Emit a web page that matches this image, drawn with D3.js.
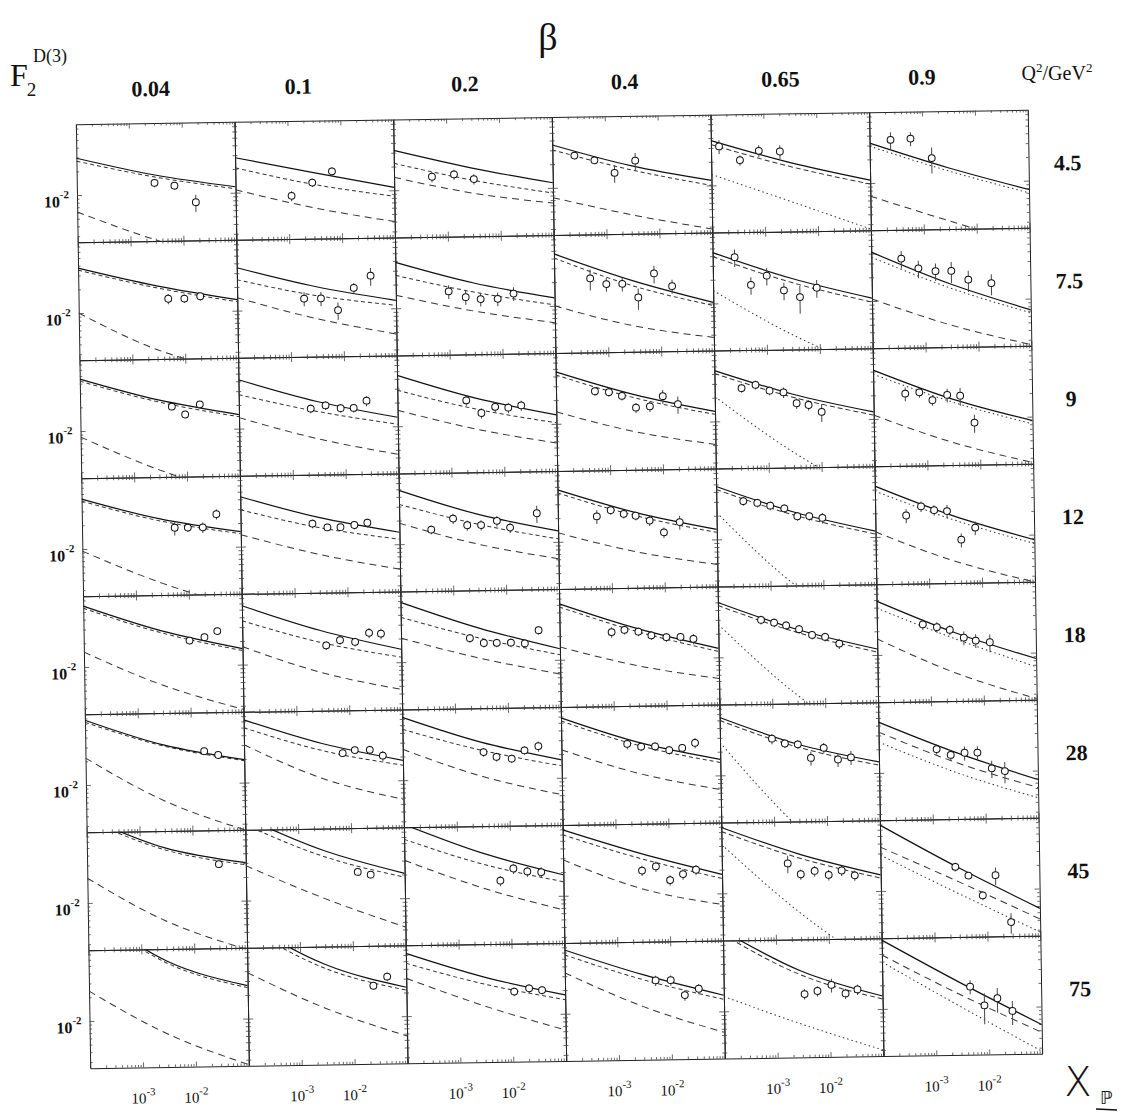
<!DOCTYPE html>
<html>
<head>
<meta charset="utf-8">
<script src="https://cdn.jsdelivr.net/npm/d3@7"></script>
<style>
  body{margin:0;background:#fff;}
  text{font-family:"Liberation Serif","Times New Roman",serif;fill:#111;}
</style>
</head>
<body>
<script>
(function(){

  //column and row labels
  var betaValues = ["0.04", "0.1", "0.2", "0.4", "0.65", "0.9"];
  var q2Values = ["4.5", "7.5", "9", "12", "18", "28", "45", "75"];
  var xTickValues = [1e-3, 1e-2];
  var yTickValues = [1e-2];

  var curveX = [1e-4, 3e-3, 1e-1];

  //model curves [row][col] = F values at curveX
  var solidCurve = [
    [[.0294,.0174,.0119],[.0278,.0174,.0109],[.0321,.0185,.0116],[.0351,.0185,.0116],[.0372,.0190,.0109],[.0321,.0151,.0077]],
    [[.0372,.0214,.0138],[.0351,.0196,.0126],[.0383,.0202,.0126],[.0457,.0202,.0103],[.0443,.0202,.0109],[.0418,.0160,.0072]],
    [[.0457,.0240,.0151],[.0418,.0214,.0130],[.0443,.0220,.0130],[.0457,.0227,.0134],[.0443,.0214,.0123],[.0418,.0174,.0089]],
    [[.0431,.0233,.0155],[.0431,.0227,.0142],[.0484,.0233,.0138],[.0457,.0227,.0134],[.0470,.0214,.0119],[.0443,.0179,.0086]],
    [[.0594,.0278,.0160],[.0560,.0262,.0146],[.0577,.0262,.0138],[.0514,.0240,.0130],[.0498,.0220,.0119],[.0484,.0185,.0084]],
    [[.0666,.0312,.0196],[.0628,.0303,.0179],[.0628,.0294,.0169],[.0577,.0270,.0160],[.0544,.0240,.0138],[.0443,.0174,.0077]],
    [[.123,.0484,.0303],[.113,.0418,.0207],[.0867,.0361,.0185],[.0687,.0331,.0174],[.0687,.0303,.0160],[.0687,.0190,.0056]],
    [[.256,.0560,.0262],[.165,.0470,.0233],[.0628,.0303,.0174],[.0647,.0303,.0160],[.106,.0312,.0146],[.0749,.0207,.0059]]
  ];
  var upperCurve = [
    [[.0270,.0164,.0112],[.0207,.0123,.0084],[.0220,.0130,.0086],[.0303,.0164,.0100],[.0331,.0169,.0097],[.0294,.0138,.0070]],
    [[.0351,.0202,.0130],[.0247,.0151,.0109],[.0262,.0155,.0103],[.0406,.0174,.0094],[.0394,.0179,.0097],[.0361,.0142,.0066]],
    [[.0431,.0227,.0142],[.0270,.0160,.0106],[.0286,.0160,.0103],[.0418,.0207,.0123],[.0406,.0196,.0112],[.0372,.0160,.0081]],
    [[.0406,.0220,.0146],[.0294,.0169,.0116],[.0321,.0174,.0109],[.0418,.0207,.0123],[.0431,.0196,.0109],[.0383,.0160,.0077]],
    [[.0560,.0262,.0151],[.0361,.0185,.0116],[.0372,.0196,.0116],[.0470,.0220,.0119],[.0457,.0202,.0109],[.0394,.0155,.0066]],
    [[.0628,.0303,.0190],[.0498,.0247,.0155],[.0443,.0233,.0142],[.0528,.0247,.0146],[.0498,.0220,.0126],[.0331,.0130,.0061]],
    [[.116,.0457,.0286],[.092,.0351,.0185],[.0560,.0262,.0151],[.0594,.0286,.0155],[.0611,.0270,.0146],[.0361,.0126,.0041]],
    [[.242,.0528,.0247],[.143,.0418,.0214],[.0470,.0247,.0151],[.0560,.0262,.0142],[.0946,.0278,.0134],[.0484,.0146,.0047]]
  ];
  var lowerCurve = [
    [[.0061,.0026,.00132],[.0109,.0062,.0040],[.0146,.0089,.0064],[.0075,.0044,.0028],[.0138,.0061,.0026],[.0068,.0032,.00153]],
    [[.0100,.0033,.00167],[.0146,.0077,.0047],[.0146,.0089,.0061],[.0100,.0054,.0037],[.0146,.0039,.00132],[.0106,.0048,.0026]],
    [[.0084,.0031,.0014],[.0138,.0072,.0044],[.0160,.0089,.0057],[.0142,.0077,.0051],[.0207,.0039,.00098],[.0112,.0049,.0026]],
    [[.0094,.0036,.00167],[.0142,.0077,.0048],[.0185,.0097,.0061],[.0130,.0072,.0048],[.0220,.0025,.00055],[.0116,.0048,.0025]],
    [[.0155,.0057,.0027],[.0169,.0077,.0045],[.0202,.0109,.0066],[.0146,.0081,.0054],[.0262,.0032,.00064],[.0160,.0057,.0026]],
    [[.0220,.0061,.0025],[.0303,.0109,.0057],[.0247,.0109,.0061],[.0227,.0109,.0066],[.0262,.00205,.00031],[.0247,.0097,.0045]],
    [[.0207,.0057,.0024],[.0278,.0103,.0043],[.0303,.0130,.0066],[.0286,.0119,.0072],[.0418,.0054,.00098],[.0286,.0089,.0028]],
    [[.0240,.0066,.0026],[.0383,.0130,.0056],[.0303,.0130,.0062],[.0331,.0119,.0054],[.0155,.0066,.0030],[.0394,.0103,.0027]]
  ];

  //measured points [row][col] = [[x_pom, F2D3, error], ...]
  var points = [
    [
      [[2.95e-3,.0138,.0017],[7.0e-3,.0126,.0013],[1.76e-2,.0077,.0019]],
      [[1.14e-3,.0089,.0013],[2.83e-3,.0130,.0016],[6.72e-3,.0179,.0022]],
      [[5.2e-4,.0146,.0022],[1.36e-3,.0155,.0023],[3.22e-3,.0134,.0020]],
      [[2.6e-4,.0255,.0019],[6.2e-4,.0220,.0017],[1.48e-3,.0151,.0038],[3.66e-3,.0214,.0054]],
      [[1.42e-4,.0312,.0062],[3.5e-4,.0207,.0031],[8.0e-4,.0270,.0047],[2.0e-3,.0262,.0052]],
      [[2.49e-4,.0351,.0088],[5.94e-4,.0361,.0072],[1.48e-3,.0202,.0073]]
    ],
    [
      [[4.96e-3,.0146,.0022],[1.0e-2,.0146,.0018],[2.0e-2,.0155,.0019]],
      [[1.84e-3,.0138,.0028],[3.83e-3,.0138,.0028],[8.0e-3,.0097,.0024],[1.61e-2,.0185,.0028],[3.37e-2,.0262,.0066]],
      [[1.0e-3,.0160,.0032],[2.09e-3,.0134,.0027],[4.0e-3,.0126,.0025],[8.4e-3,.0126,.0025],[1.68e-2,.0146,.0029]],
      [[4.77e-4,.0220,.0066],[9.6e-4,.0185,.0037],[1.92e-3,.0185,.0037],[3.83e-3,.0123,.0037],[7.7e-3,.0247,.0062],[1.68e-2,.0169,.0034]],
      [[2.6e-4,.0383,.0096],[5.2e-4,.0169,.0042],[1.04e-3,.0220,.0055],[2.18e-3,.0142,.0036],[4.36e-3,.0116,.0045],[9.1e-3,.0151,.0038]],
      [[3.68e-4,.0341,.0085],[7.7e-4,.0255,.0064],[1.62e-3,.0233,.0058],[3.22e-3,.0233,.0070],[6.72e-3,.0179,.0054],[1.83e-2,.0160,.0048]]
    ],
    [
      [[5.41e-3,.0196,.0020],[9.6e-3,.0155,.0016],[1.83e-2,.0207,.0021]],
      [[2.28e-3,.0174,.0022],[4.36e-3,.0190,.0024],[8.4e-3,.0174,.0022],[1.48e-2,.0174,.0022],[2.6e-2,.0214,.0032]],
      [[2.0e-3,.0207,.0031],[3.83e-3,.0142,.0021],[7.0e-3,.0169,.0025],[1.24e-2,.0164,.0025],[2.18e-2,.0174,.0026]],
      [[5.44e-4,.0255,.0032],[1.0e-3,.0247,.0031],[1.76e-3,.0220,.0028],[3.22e-3,.0155,.0023],[5.9e-3,.0160,.0024],[1.04e-2,.0214,.0043],[2.0e-2,.0169,.0042]],
      [[3.23e-4,.0262,.0033],[5.94e-4,.0286,.0036],[1.09e-3,.0240,.0030],[2.0e-3,.0227,.0034],[3.51e-3,.0164,.0025],[5.9e-3,.0155,.0023],[1.04e-2,.0126,.0032]],
      [[4.0e-4,.0207,.0041],[7.38e-4,.0214,.0032],[1.30e-3,.0169,.0025],[2.48e-3,.0196,.0039],[4.36e-3,.0190,.0048],[8.0e-3,.0086,.0022]]
    ],
    [
      [[5.65e-3,.0179,.0036],[1.0e-2,.0179,.0022],[1.92e-2,.0179,.0027],[3.5e-2,.0262,.0039]],
      [[2.28e-3,.0190,.0024],[4.36e-3,.0169,.0017],[7.7e-3,.0169,.0017],[1.41e-2,.0179,.0022],[2.49e-2,.0190,.0024]],
      [[4.0e-4,.0151,.0019],[1.04e-3,.0207,.0031],[1.92e-3,.0169,.0025],[3.51e-3,.0169,.0025],[7.0e-3,.0190,.0029],[1.24e-2,.0155,.0023],[4.0e-2,.0233,.0058]],
      [[5.44e-4,.0207,.0041],[1.0e-3,.0247,.0031],[1.76e-3,.0220,.0028],[2.95e-3,.0207,.0026],[5.41e-3,.0179,.0027],[1.0e-2,.0126,.0019],[2.0e-2,.0169,.0034]],
      [[3.23e-4,.0303,.0038],[5.94e-4,.0286,.0036],[1.04e-3,.0262,.0033],[1.92e-3,.0240,.0030],[3.36e-3,.0190,.0024],[5.65e-3,.0190,.0024],[1.0e-2,.0179,.0027]],
      [[3.84e-4,.0185,.0037],[7.38e-4,.0240,.0036],[1.30e-3,.0214,.0032],[2.28e-3,.0207,.0041],[4.17e-3,.0089,.0018],[7.7e-3,.0126,.0025]]
    ],
    [
      [[1.0e-2,.0207,.0021],[1.92e-2,.0227,.0023],[3.37e-2,.0270,.0027]],
      [[3.83e-3,.0169,.0021],[7.0e-3,.0196,.0025],[1.35e-2,.0185,.0023],[2.49e-2,.0240,.0036],[4.18e-2,.0233,.0035]],
      [[2.0e-3,.0196,.0025],[3.66e-3,.0169,.0021],[6.43e-3,.0169,.0021],[1.19e-2,.0169,.0021],[2.18e-2,.0164,.0021],[4.0e-2,.0240,.0030]],
      [[9.6e-4,.0220,.0033],[1.68e-3,.0233,.0029],[3.08e-3,.0220,.0028],[5.41e-3,.0196,.0025],[1.04e-2,.0185,.0023],[1.92e-2,.0185,.0023],[3.37e-2,.0174,.0026]],
      [[6.47e-4,.0294,.0037],[1.14e-3,.0270,.0034],[1.92e-3,.0247,.0031],[3.36e-3,.0220,.0028],[5.9e-3,.0185,.0023],[1.04e-2,.0174,.0022],[1.92e-2,.0142,.0021]],
      [[7.38e-4,.0240,.0036],[1.36e-3,.0220,.0033],[2.38e-3,.0202,.0030],[4.36e-3,.0160,.0032],[7.3e-3,.0146,.0029],[1.35e-2,.0138,.0035]]
    ],
    [
      [[1.76e-2,.0255,.0026],[3.23e-2,.0227,.0023]],
      [[7.3e-3,.0227,.0023],[1.24e-2,.0247,.0025],[2.38e-2,.0247,.0031],[4.18e-2,.0207,.0031]],
      [[3.36e-3,.0220,.0028],[5.9e-3,.0190,.0024],[1.14e-2,.0179,.0022],[2.0e-2,.0227,.0028],[3.67e-2,.0255,.0038]],
      [[1.76e-3,.0262,.0039],[3.22e-3,.0240,.0030],[5.9e-3,.0240,.0030],[1.09e-2,.0214,.0027],[1.92e-2,.0227,.0028],[3.37e-2,.0262,.0039]],
      [[9.6e-4,.0286,.0043],[1.68e-3,.0247,.0031],[2.95e-3,.0240,.0030],[5.18e-3,.0160,.0032],[9.1e-3,.0214,.0032],[1.68e-2,.0151,.0030],[2.96e-2,.0160,.0032]],
      [[1.24e-3,.0196,.0029],[2.28e-3,.0164,.0025],[4.17e-3,.0174,.0035],[7.3e-3,.0174,.0035],[1.35e-2,.0109,.0027],[2.38e-2,.0100,.0030]]
    ],
    [
      [[3.1e-2,.0294,.0029]],
      [[1.3e-2,.0220,.0022],[2.28e-2,.0202,.0020]],
      [[6.43e-3,.0160,.0024],[1.14e-2,.0227,.0034],[2.09e-2,.0207,.0031],[3.83e-2,.0202,.0030]],
      [[3.08e-3,.0202,.0030],[5.65e-3,.0227,.0034],[1.04e-2,.0151,.0023],[1.83e-2,.0179,.0027],[3.23e-2,.0202,.0030]],
      [[1.76e-3,.0233,.0058],[3.08e-3,.0169,.0025],[5.65e-3,.0185,.0028],[1.04e-2,.0164,.0025],[1.83e-2,.0185,.0028],[3.23e-2,.0160,.0024]],
      [[2.59e-3,.0196,.0025],[4.55e-3,.0151,.0015],[8.4e-3,.0084,.0011],[1.48e-2,.0151,.0038],[2.83e-2,.0038,.0011]]
    ],
    [
      [],
      [[2.38e-2,.0247,.0025],[4.37e-2,.0321,.0040]],
      [[1.09e-2,.0196,.0025],[2.09e-2,.0214,.0027],[3.67e-2,.0202,.0025]],
      [[5.18e-3,.0255,.0038],[1.0e-2,.0255,.0038],[1.83e-2,.0164,.0025],[3.37e-2,.0196,.0029]],
      [[3.36e-3,.0160,.0024],[5.9e-3,.0174,.0026],[1.09e-2,.0207,.0041],[2.0e-2,.0160,.0024],[3.37e-2,.0179,.0027]],
      [[4.55e-3,.0185,.0037],[8.4e-3,.0106,.0045],[1.48e-2,.0130,.0045],[2.83e-2,.0089,.0030]]
    ]
  ];

  //layout
  var width = 1134, height = 1120;
  var gridLeft = 83, gridTop = 117, cellW = 952 / 6, cellH = 944 / 8;
  var betaLabelShift = [-4, -15, -7, -6, -9, -26]; //label offsets from panel centre
  var tilt = -0.87; //the scanned page is slightly rotated

  var svg = d3.select("body").append("svg")
    .attr("width", width)
    .attr("height", height);

  svg.append("rect").attr("width", width).attr("height", height).attr("fill", "#fff");

  svg.append("defs").append("clipPath").attr("id", "cellClip")
    .append("rect").attr("x", 0).attr("y", 0).attr("width", cellW).attr("height", cellH);

  var x = d3.scaleLog().domain([1e-4, 1e-1]).range([0, cellW]);
  var y = d3.scaleLog().domain([Math.pow(10, -2.6), Math.pow(10, -1.1)]).range([cellH, 0]);

  var line = d3.line()
    .x(function(d){ return x(d[0]); })
    .y(function(d){ return y(d[1]); })
    .curve(d3.curveNatural);

  var grid = svg.append("g").attr("transform", "rotate(" + tilt + ",559,589)");

  //dash patterns for the two extra curves in each panel
  function curveDash(r, c){
    if (c < 4) return ["4,3", "7,5"];
    if (c == 4) return ["5,3", "1.5,3"];
    if (r < 5) return ["1.5,3", "7,5"];
    return ["7,5", "1.5,3"];
  };

  function isDecade(v){
    var l = Math.log10(v);
    return Math.abs(l - Math.round(l)) < 1e-6;
  };

  for (var r = 0; r < 8; r++){
    for (var c = 0; c < 6; c++){
      var panel = grid.append("g")
        .attr("transform", "translate(" + (gridLeft + c * cellW) + "," + (gridTop + r * cellH) + ")");

      //frame with inward ticks
      var axes = [
        {a: d3.axisBottom(x), t: "translate(0," + cellH + ")"},
        {a: d3.axisTop(x), t: "translate(0,0)"},
        {a: d3.axisLeft(y), t: "translate(0,0)"},
        {a: d3.axisRight(y), t: "translate(" + cellW + ",0)"}
      ];
      axes.forEach(function(ax){
        var ag = panel.append("g").attr("transform", ax.t)
          .call(ax.a.tickSizeInner(-2.5).tickSizeOuter(0).tickFormat(""));
        ag.select(".domain").attr("stroke", "#222").attr("stroke-width", 1);
        ag.selectAll(".tick line").attr("stroke", "#444").attr("stroke-width", 0.8);
        ag.selectAll(".tick").filter(function(d){ return isDecade(d); })
          .select("line").each(function(){
            var ln = d3.select(this);
            if (ln.attr("y2") != null && +ln.attr("y2") != 0) ln.attr("y2", +ln.attr("y2") * 2);
            if (ln.attr("x2") != null && +ln.attr("x2") != 0) ln.attr("x2", +ln.attr("x2") * 2);
          });
      });

      var inner = panel.append("g").attr("clip-path", "url(#cellClip)");
      var dash = curveDash(r, c);

      inner.append("path")
        .datum(curveX.map(function(v, i){ return [v, lowerCurve[r][c][i]]; }))
        .attr("d", line)
        .attr("fill", "none").attr("stroke", "#333").attr("stroke-width", 1)
        .attr("stroke-dasharray", dash[1]);

      inner.append("path")
        .datum(curveX.map(function(v, i){ return [v, upperCurve[r][c][i]]; }))
        .attr("d", line)
        .attr("fill", "none").attr("stroke", "#333").attr("stroke-width", 1)
        .attr("stroke-dasharray", dash[0]);

      inner.append("path")
        .datum(curveX.map(function(v, i){ return [v, solidCurve[r][c][i]]; }))
        .attr("d", line)
        .attr("fill", "none").attr("stroke", "#111").attr("stroke-width", 1.2);

      //error bars then markers
      inner.selectAll(".err")
        .data(points[r][c]).enter()
        .append("line")
        .attr("class", "err")
        .attr("x1", function(d){ return x(d[0]); })
        .attr("x2", function(d){ return x(d[0]); })
        .attr("y1", function(d){ return y(d[1] - d[2]); })
        .attr("y2", function(d){ return y(d[1] + d[2]); })
        .attr("stroke", "#444").attr("stroke-width", 1);

      inner.selectAll(".pt")
        .data(points[r][c]).enter()
        .append("circle")
        .attr("class", "pt")
        .attr("cx", function(d){ return x(d[0]); })
        .attr("cy", function(d){ return y(d[1]); })
        .attr("r", 3.4)
        .attr("fill", "#fff").attr("stroke", "#111").attr("stroke-width", 1);
    };
  };

  //y tick labels (one per row)
  for (var r = 0; r < 8; r++){
    yTickValues.forEach(function(v){
      var t = grid.append("text")
        .attr("x", gridLeft - 8)
        .attr("y", gridTop + r * cellH + y(v) + 12)
        .attr("text-anchor", "end")
        .attr("font-size", 16).attr("font-weight", "bold");
      t.append("tspan").text("10");
      t.append("tspan").attr("dy", -9).attr("font-size", 11).text("-" + Math.round(-Math.log10(v)));
    });
  };

  //x tick labels under each column
  for (var c = 0; c < 6; c++){
    xTickValues.forEach(function(v){
      var t = grid.append("text")
        .attr("x", gridLeft + c * cellW + x(v))
        .attr("y", gridTop + 8 * cellH + 36)
        .attr("text-anchor", "middle")
        .attr("font-size", 15);
      t.append("tspan").text("10");
      t.append("tspan").attr("dy", -8).attr("font-size", 11).text("-" + Math.round(-Math.log10(v)));
    });
  };

  //beta labels
  grid.selectAll(".beta")
    .data(betaValues).enter()
    .append("text")
    .attr("class", "beta")
    .attr("x", function(d, i){ return gridLeft + (i + 0.5) * cellW + betaLabelShift[i]; })
    .attr("y", 90)
    .attr("text-anchor", "middle")
    .attr("font-size", 22).attr("font-weight", "bold")
    .text(function(d){ return d; });

  //Q2 labels
  grid.selectAll(".q2")
    .data(q2Values).enter()
    .append("text")
    .attr("class", "q2")
    .attr("x", gridLeft + 6 * cellW + 39)
    .attr("y", function(d, i){ return gridTop + (i + 0.5) * cellH + 2; })
    .attr("text-anchor", "middle")
    .attr("font-size", 22).attr("font-weight", "bold")
    .text(function(d){ return d; });

  //titles
  svg.append("text").attr("x", 548).attr("y", 50).attr("text-anchor", "middle")
    .attr("font-size", 38).text("β");

  var f = svg.append("text").attr("x", 10).attr("y", 86).attr("font-size", 32);
  f.append("tspan").text("F");
  f.append("tspan").attr("font-size", 19).attr("dy", 10).attr("dx", -1).text("2");
  svg.append("text").attr("x", 33).attr("y", 62).attr("font-size", 18).text("D(3)");

  var q = svg.append("text").attr("x", 1057).attr("y", 80).attr("text-anchor", "middle").attr("font-size", 20);
  q.append("tspan").text("Q");
  q.append("tspan").attr("dy", -8).attr("font-size", 13).text("2");
  q.append("tspan").attr("dy", 8).text("/GeV");
  q.append("tspan").attr("dy", -8).attr("font-size", 13).text("2");

  svg.append("text").attr("x", 1078).attr("y", 1096).attr("text-anchor", "middle")
    .style("font-family", "'DejaVu Sans', sans-serif").attr("font-size", 40).attr("font-weight", 200)
    .text("X");
  svg.append("text").attr("x", 1106).attr("y", 1104).attr("text-anchor", "middle")
    .style("font-family", "'DejaVu Sans', sans-serif").attr("font-size", 18)
    .text("ℙ");
  svg.append("line").attr("x1", 1096).attr("x2", 1117).attr("y1", 1109).attr("y2", 1110)
    .attr("stroke", "#111").attr("stroke-width", 1.5);

})();
</script>
</body>
</html>
